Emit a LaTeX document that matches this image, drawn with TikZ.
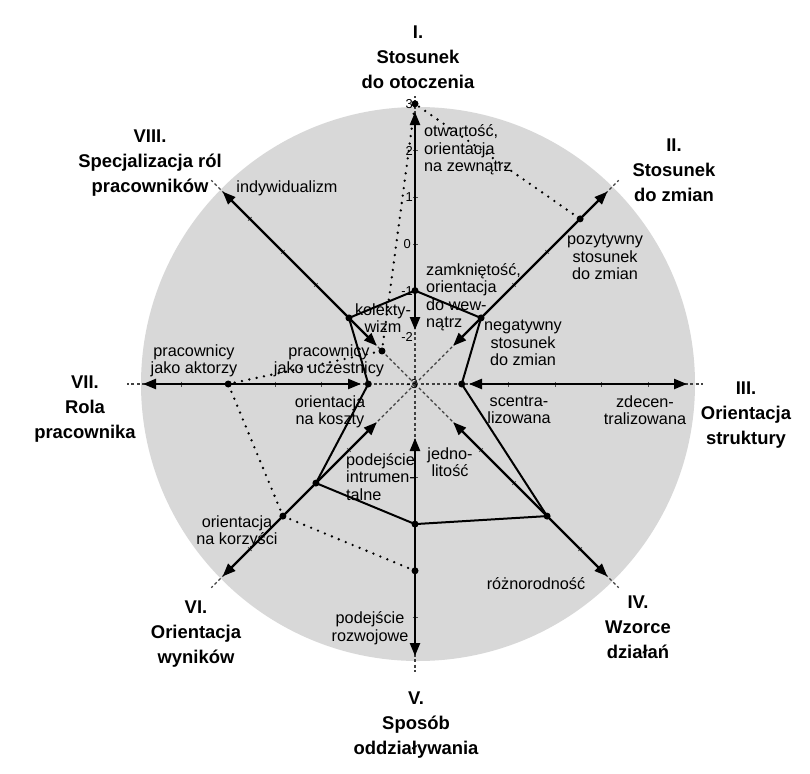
\documentclass[tikz,border=0pt]{standalone}
\usepackage{fontspec}
\setmainfont{Liberation Sans}
\usetikzlibrary{arrows.meta,calc}
\definecolor{disc}{RGB}{216,216,216}
\begin{document}
\begin{tikzpicture}[x=1bp,y=-1bp,
  lbl/.style={font=\fontsize{16.3}{17.5}\selectfont, align=center, inner sep=0pt},
  ttl/.style={font=\fontsize{18.5}{25}\selectfont\bfseries, align=center, inner sep=0pt},
  ticklbl/.style={font=\fontsize{13}{13}\selectfont, inner sep=0pt, anchor=east},
  axisarrow/.style={line width=2.3bp, {Triangle[length=13bp,width=10bp]}-{Triangle[length=13bp,width=10bp]}},
  guide/.style={line width=1.1bp, dash pattern=on 3bp off 2.5bp, black!75},
  tickmark/.style={line width=0.8bp, black!70},
  profile/.style={line width=2bp, line join=round},
  target/.style={line width=2.6bp, line cap=round, dash pattern=on 0bp off 7.5bp},
  dot/.style={circle, fill=black, inner sep=0pt, minimum size=7bp}
]
\useasboundingbox (0,0) rectangle (810,774);
\fill[white] (0,0) rectangle (810,774);
\coordinate (C) at (415,384);
\fill[disc] (418,384) circle[radius=277];

% axis geometry
\begin{scope}[shift={(C)}]
\foreach \k in {0,...,7}{
  \pgfmathsetmacro\a{45*\k-90}
  \coordinate (in\k) at (\a:54);
  \coordinate (out\k) at (\a:272);
  \coordinate (end\k) at (\a:288);
}
% solid profile
\coordinate (s0) at (-90:93.4);
\coordinate (s1) at (-45:93.4);
\coordinate (s2) at (0:46.7);
\coordinate (s3) at (45:186.8);
\coordinate (s4) at (90:140.1);
\coordinate (s5) at (135:140.1);
\coordinate (s6) at (180:46.7);
\coordinate (s7) at (225:93.4);
% dotted profile
\coordinate (t0) at (-90:280.2);
\coordinate (t1) at (-45:233.5);
\coordinate (t4) at (90:186.8);
\coordinate (t5) at (135:186.8);
\coordinate (t6) at (180:186.8);
\coordinate (t7) at (225:46.7);
\end{scope}

% dashed guides
\foreach \k in {0,...,7}{ \draw[guide] (C) -- (end\k); }
% ticks
\foreach \k in {0,...,7}{
  \pgfmathsetmacro\a{45*\k-90}
  \foreach \r in {93.4,140.1,186.8,233.5}{
    \draw[tickmark] ($(C)+(\a:\r)+(\a+90:2.5)$) -- ($(C)+(\a:\r)+(\a-90:2.5)$);
  }
}
% axes
\foreach \k in {0,...,7}{ \draw[axisarrow] (in\k) -- (out\k); }

% profiles
\draw[target] (t4) -- (t5) -- (t6) -- (t7) -- (t0) -- (t1);
\draw[profile] (s0) -- (s1) -- (s2) -- (s3) -- (s4) -- (s5) -- (s6) -- (s7) -- cycle;
\foreach \p in {s0,s1,s2,s3,s4,s5,s6,s7,t0,t1,t4,t5,t6,t7}{ \node[dot] (d\p) at (\p) {}; }

% tick labels on axis I
\node[ticklbl] (v3) at (413,103.8) {3};
\node[ticklbl] (v2) at (413,150.5) {2};
\node[ticklbl] (v1) at (413,197.2) {1};
\node[ticklbl] (v0) at (411,243.9) {0};
\node[ticklbl] (vm1) at (413,290.6) {-1};
\node[ticklbl] (vm2) at (413,337.3) {-2};
\node[ticklbl] (vm3) at (418,384) {-3};

% small labels
\node[lbl, anchor=west, align=left] (l1a) at (424,150) {otwartość,\\orientacja\\na zewnątrz};
\node[lbl, anchor=west, align=left] (l1b) at (426,297) {zamkniętość,\\orientacja\\do wew-\\nątrz};
\node[lbl] (l2a) at (605,257) {pozytywny\\stosunek\\do zmian};
\node[lbl] (l2b) at (523,343) {negatywny\\stosunek\\do zmian};
\node[lbl] (l3a) at (519,410) {scentra-\\lizowana};
\node[lbl] (l3b) at (645,410) {zdecen-\\tralizowana};
\node[lbl] (l4a) at (450,462) {jedno-\\litość};
\node[lbl] (l4b) at (536,584) {różnorodność};
\node[lbl] (l5a) at (370,628) {podejście\\rozwojowe};
\node[lbl, anchor=west, align=left] (l5b) at (346,477) {podejście\\intrumen-\\talne};
\node[lbl] (l6a) at (237,532) {orientacja\\na korzyści};
\node[lbl] (l6b) at (330,412) {orientacja\\na koszty};
\node[lbl] (l7a) at (194,361) {pracownicy\\jako aktorzy};
\node[lbl] (l7b) at (329,361) {pracownicy\\jako uczestnicy};
\node[lbl] (l8a) at (383,318) {kolekty-\\wizm};
\node[lbl] (l8b) at (287,188) {indywidualizm};

% titles
\node[ttl] (T1) at (418,57) {I.\\Stosunek\\do otoczenia};
\node[ttl] (T2) at (674,170) {II.\\Stosunek\\do zmian};
\node[ttl] (T3) at (746,415) {III.\\Orientacja\\struktury};
\node[ttl] (T4) at (638,627) {IV.\\Wzorce\\działań};
\node[ttl] (T5) at (416,725) {V.\\Sposób\\oddziaływania};
\node[ttl] (T6) at (196,634) {VI.\\Orientacja\\wyników};
\node[ttl] (T7) at (85,409) {VII.\\Rola\\pracownika};
\node[ttl] (T8) at (150,163) {VIII.\\Specjalizacja ról\\pracowników};
\end{tikzpicture}
\end{document}
